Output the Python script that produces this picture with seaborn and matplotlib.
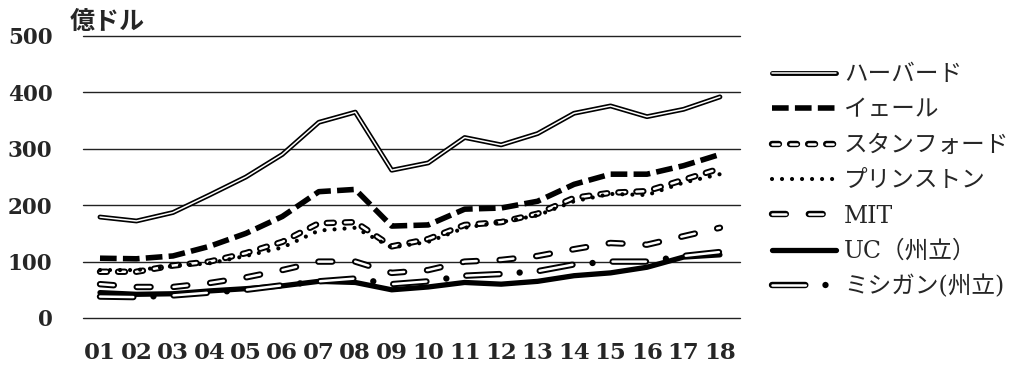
import matplotlib
matplotlib.use("Agg")
import matplotlib.pyplot as plt
from matplotlib.lines import Line2D
from matplotlib.legend_handler import HandlerTuple
import seaborn as sns
import numpy as np

years = ["01", "02", "03", "04", "05", "06", "07", "08", "09",
         "10", "11", "12", "13", "14", "15", "16", "17", "18"]
harvard = [179, 172, 187, 218, 250, 290, 347, 365, 262, 275, 320, 307, 327, 363, 376, 357, 370, 392]
yale = [106, 105, 110, 127, 150, 180, 224, 228, 163, 165, 193, 195, 207, 237, 255, 255, 270, 290]
stanford = [82, 82, 93, 100, 115, 135, 168, 170, 127, 140, 165, 170, 185, 213, 222, 225, 245, 265]
princeton = [85, 85, 92, 97, 110, 125, 155, 160, 125, 135, 160, 170, 182, 207, 220, 218, 240, 255]
mit = [60, 55, 55, 62, 72, 85, 100, 100, 80, 85, 100, 103, 110, 122, 133, 130, 145, 160]
uc = [45, 42, 43, 48, 52, 57, 65, 63, 50, 55, 63, 60, 65, 75, 80, 90, 108, 112]
michigan = [38, 37, 40, 45, 50, 58, 65, 70, 60, 65, 75, 78, 83, 95, 100, 100, 110, 117]
names = ["ハーバード", "イェール", "スタンフォード", "プリンストン", "MIT", "UC（州立）", "ミシガン(州立)"]
yticks = [0, 100, 200, 300, 400, 500]
unit = "億ドル"

sns.set_theme(style="white")
plt.rcParams["lines.scale_dashes"] = False
plt.rcParams["font.family"] = ["DejaVu Serif", "Noto Sans CJK JP"]

fig = plt.figure(figsize=(10.24, 3.66), dpi=100)
ax = fig.add_axes([83 / 1024, 1 - 318 / 366, (740 - 83) / 1024, (318 - 36) / 366])

x = np.arange(len(years))

# (outer style, inner style or None) per series; inner strokes are white cores
styles = [
    (dict(lw=3.5, ls="-", solid_capstyle="round"), dict(lw=1.1, ls="-", solid_capstyle="round")),
    (dict(lw=4.0, ls=(0, (12, 4.5)), dash_capstyle="butt"), None),
    (dict(lw=4.6, ls=(0, (5, 8)), dash_capstyle="round"), dict(lw=1.8, ls=(0, (5, 8)), dash_capstyle="round")),
    (dict(lw=3.0, ls=(0, (0.01, 7.2)), dash_capstyle="round"), None),
    (dict(lw=4.6, ls=(0, (10, 16.5)), dash_capstyle="round"), dict(lw=1.8, ls=(0, (10, 16.5)), dash_capstyle="round")),
    (dict(lw=3.8, ls="-", solid_capstyle="round"), None),
    (dict(lw=4.6, ls=(0, (24, 14.5, 0.01, 14.5)), dash_capstyle="round"),
     dict(lw=1.8, ls=(0, (24, 29)), dash_capstyle="round")),
]
series = [harvard, yale, stanford, princeton, mit, uc, michigan]


def styled(line, st):
    line.set_linewidth(st["lw"])
    line.set_linestyle(st["ls"])
    if "dash_capstyle" in st:
        line.set_dash_capstyle(st["dash_capstyle"])
    if "solid_capstyle" in st:
        line.set_solid_capstyle(st["solid_capstyle"])
    return line


handles = []
for vals, (outer, inner) in zip(series, styles):
    sns.lineplot(x=x, y=vals, ax=ax, color="black")
    styled(ax.lines[-1], outer)
    h_outer = styled(Line2D([], [], color="black"), outer)
    if inner is not None:
        sns.lineplot(x=x, y=vals, ax=ax, color="white")
        styled(ax.lines[-1], inner)
        h_inner = styled(Line2D([], [], color="white"), inner)
        handles.append((h_outer, h_inner))
    else:
        handles.append(h_outer)

ax.set_xlim(-0.466, 17.55)
ax.set_ylim(0, 500)
ax.set_yticks(yticks)
ax.set_yticklabels([str(v) for v in yticks], fontsize=15.5, fontweight="bold",
                   family="DejaVu Serif")
ax.set_xticks(x)
ax.set_xticklabels(years, fontsize=16.5, fontweight="bold", family="DejaVu Serif")
ax.tick_params(axis="y", length=0, pad=22)
ax.tick_params(axis="x", length=0, pad=17)
ax.set_xlabel("")
ax.set_ylabel("")
for s in ax.spines.values():
    s.set_visible(False)
ax.grid(False)
for v in yticks:
    ax.axhline(v, color="#222222", lw=1.0, zorder=0, clip_on=False)

fig.text(70 / 1024, 1 - 22 / 366, unit, fontsize=18, fontweight="bold",
         family=["Noto Sans CJK JP"], ha="left", va="center")

leg = fig.legend(handles, names, loc="center left", bbox_to_anchor=(772 / 1024, 1 - 181 / 366),
                 frameon=False, fontsize=17, handlelength=2.7, handletextpad=0.35,
                 labelspacing=0.52, borderaxespad=0, borderpad=0,
                 handler_map={tuple: HandlerTuple(ndivide=1, pad=0)})
for t in leg.get_texts():
    t.set_family(["DejaVu Serif", "Noto Sans CJK JP"])

fig.savefig("out.png", dpi=100)
